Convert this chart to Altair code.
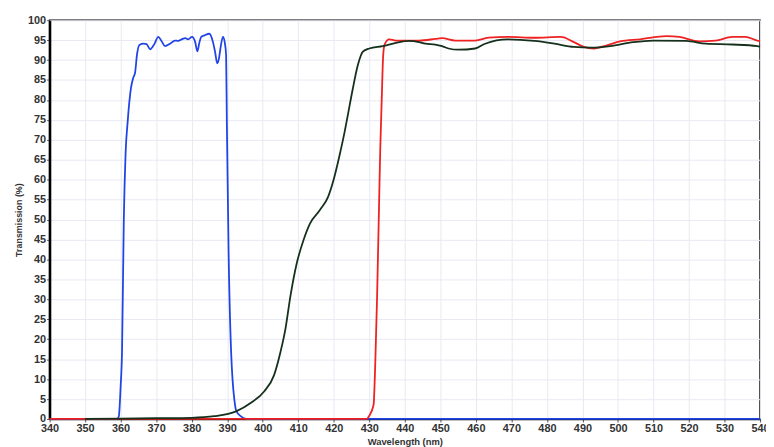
import altair as alt
import pandas as pd

# Blue filter
blue_wl = [340, 359, 359.5, 360, 360.4, 360.9, 361.4, 362, 362.9, 363.5, 364.1, 364.6, 365.3, 366.5,
           367.3, 368.3, 369.5, 370.6, 371.5, 372.5, 373.9, 375.3, 376.2, 377.2, 378.2, 379, 380.1,
           381, 381.6, 382.2, 382.7, 383.6, 385, 386, 386.6, 387.2, 387.7, 388.1, 388.8, 389.3,
           389.7, 389.9, 390.4, 391.1, 391.5, 392, 392.5, 393.8, 395.5, 540]
blue_t = [0, 0, 0.7, 8, 17, 50, 66.5, 74.7, 82.9, 85.4, 87, 91.3, 93.8, 94.1,
          94, 92.7, 94, 95.8, 94.8, 93.5, 94.1, 94.9, 94.8, 95.2, 95.5, 95.2, 95.8,
          94.5, 92.2, 94.5, 95.8, 96.2, 96.6, 94.5, 92, 89.2, 90.5, 92.9, 95.8, 94.5,
          91.2, 74.7, 41.7, 16.9, 10, 5, 2.2, 0.7, 0, 0]

# Red filter
red_wl = [340, 429.3, 429.9, 431.2, 431.7, 432.2, 432.7, 433.1, 433.5, 433.9, 434.3, 435.6, 437.5, 441.2,
          444, 448.6, 450.5, 454.2, 459.8, 463.5, 469, 476.5, 483.9, 487.6, 490.4, 493.2, 496.9,
          500.6, 506.2, 513.6, 517.3, 522.9, 527.5, 532.2, 535.9, 539.2, 540]
red_t = [0, 0, 0.7, 3.5, 14.4, 30.8, 51.6, 68, 80, 91, 93.9, 95.2, 94.9, 94.9,
         94.9, 95.3, 95.5, 94.9, 94.9, 95.6, 95.8, 95.6, 95.8, 94.5, 93.3, 92.9, 93.7,
         94.7, 95.2, 96, 95.8, 94.7, 94.9, 95.8, 95.8, 94.9, 94.8]

# Dark green filter
green_wl = [350, 370, 380, 386.4, 392.5, 396.6, 400.4, 403.2, 405, 406.4, 407.8, 409.6, 411.5, 413.3,
            416.1, 418.4, 419.9, 421.7, 423.1, 424, 425.4, 426.8, 428.2, 430, 433.8, 437.5, 441.2,
            444, 445.8, 448.6, 450.5, 452.3, 455.1, 459.8, 462.6, 469, 476.5, 482.1, 487.6, 492.3,
            497.8, 504.3, 509.9, 519.2, 524.7, 532.2, 539.2, 540]
green_t = [0, 0.2, 0.3, 0.7, 1.9, 4, 6.9, 11, 16.8, 22.6, 30.8, 39.1, 44.9, 49,
           52.4, 55.7, 59.8, 66.4, 72.2, 76.4, 83, 88.8, 92.1, 92.9, 93.5, 94.3, 94.8,
           94.5, 94.1, 93.9, 93.5, 92.9, 92.6, 92.9, 94.1, 95.2, 94.8, 94.1, 93.3, 93.1,
           93.5, 94.5, 94.9, 94.8, 94.1, 93.9, 93.5, 93.4]

x_ticks = list(range(340, 541, 10))
y_ticks = list(range(0, 101, 5))

x_scale = alt.Scale(domain=[340, 540], nice=False, zero=False)
y_scale = alt.Scale(domain=[0, 100], nice=False)

x_axis = alt.Axis(values=x_ticks, title="Wavelength (nm)", grid=True, gridColor="#e9e9f4",
                  labelFontSize=11, labelFont="Liberation Sans", labelColor="#333333",
                  labelFontWeight="bold", tickSize=3, tickColor="#555555", labelPadding=1,
                  titleFont="Liberation Sans", titleFontSize=9.5, titleFontWeight="bold",
                  titleColor="#333333", titlePadding=3, domainColor="#000000", domainWidth=1.5,
                  labelFlush=False, labelOverlap=False)
y_axis = alt.Axis(values=y_ticks, title="Transmission (%)", grid=True, gridColor="#e9e9f4",
                  labelFontSize=11, labelFont="Liberation Sans", labelColor="#333333",
                  labelFontWeight="bold", tickSize=3, tickColor="#555555", labelPadding=1,
                  titleFont="Liberation Sans", titleFontSize=9, titleFontWeight="bold",
                  titleColor="#333333", titlePadding=4, domainColor="#000000", domainWidth=2.5,
                  labelFlush=False, labelOverlap=False)


def series(wl, t, color):
    df = pd.DataFrame({"wl": wl, "t": t})
    return alt.Chart(df).mark_line(color=color, strokeWidth=1.8, interpolate="monotone").encode(
        x=alt.X("wl:Q", scale=x_scale, axis=x_axis),
        y=alt.Y("t:Q", scale=y_scale, axis=y_axis),
    )


chart = alt.layer(
    series(blue_wl, blue_t, "#2244e6"),
    series(red_wl, red_t, "#ee2222"),
    series(green_wl, green_t, "#15301c"),
).properties(
    width=718, height=403,
    autosize=alt.AutoSizeParams(type="none"),
    padding={"left": 42, "top": 10, "right": 6, "bottom": 26},
    background="white",
).configure_view(stroke="#000000", strokeWidth=1.5)

chart.save("out.html", embed_options={"renderer": "svg", "actions": False})
